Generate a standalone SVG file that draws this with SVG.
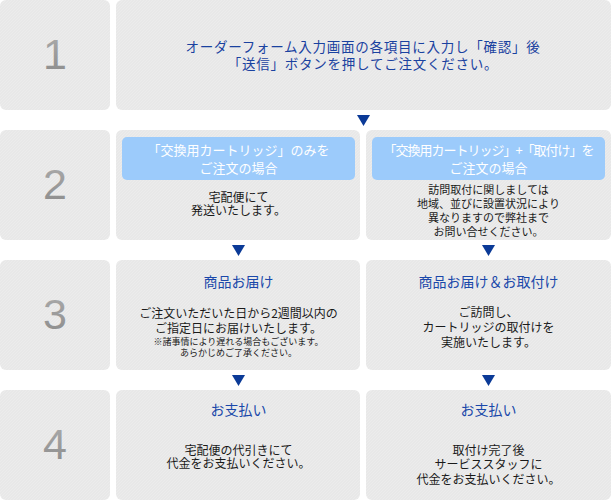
<svg xmlns="http://www.w3.org/2000/svg" width="611" height="500" viewBox="0 0 611 500">
  <defs>
    <pattern id="hatch" width="3" height="3" patternUnits="userSpaceOnUse">
      <rect width="3" height="3" fill="#e8e8e8"/>
      <path d="M0 3 L3 0" stroke="#ececec" stroke-width="1"/>
    </pattern>
    <linearGradient id="numgrad" x1="0" y1="0" x2="0" y2="1">
      <stop offset="0" stop-color="#adadad"/>
      <stop offset="1" stop-color="#8a8a8a"/>
    </linearGradient>
    <path id="arrow" d="M-6.5 0 L6.5 0 L0 11 Z"/>
    <style>
      .box { fill: url(#hatch); }
      .num { font-family: "Liberation Sans", Arial, sans-serif; font-size: 43px; fill: url(#numgrad); text-anchor: middle; }
      .jp { font-family: "Noto Sans CJK JP", "Noto Sans", sans-serif; text-anchor: middle; }
      .lead { font-size: 13.5px; fill: #1a42a0; letter-spacing: 0.75px; }
      .hdr { fill: #9ccbfb; }
      .hdrtxt { font-size: 13px; fill: #ffffff; }
      .title { font-size: 14px; fill: #1a48aa; }
      .body { font-size: 12px; fill: #1a1a1a; }
      .small { font-size: 11px; fill: #1a1a1a; }
      .note { font-size: 9px; fill: #1a1a1a; }
      .arr { fill: #0b3a97; }
    </style>
  </defs>
  <rect width="611" height="500" fill="#ffffff"/>

  <!-- Row 1 -->
  <g id="step1-number">
    <rect class="box" x="0" y="0" width="110" height="110" rx="6"/>
    <text class="num" x="55" y="69">1</text>
  </g>
  <g id="step1-order">
    <rect class="box" x="116" y="0" width="495" height="110" rx="6"/>
    <text class="jp lead" x="363" y="52">オーダーフォーム入力画面の各項目に入力し「確認」後</text>
    <text class="jp lead" x="363" y="68.5">「送信」ボタンを押してご注文ください。</text>
  </g>

  <!-- Row 2 -->
  <g id="step2-number">
    <rect class="box" x="0" y="130" width="110" height="110" rx="6"/>
    <text class="num" x="55" y="199">2</text>
  </g>
  <g id="step2-cartridge-only">
    <rect class="box" x="116" y="130" width="244" height="110" rx="6"/>
    <rect class="hdr" x="122" y="137" width="233" height="43" rx="5"/>
    <text class="jp hdrtxt" x="238.5" y="155">「交換用カートリッジ」のみを</text>
    <text class="jp hdrtxt" x="238.5" y="173">ご注文の場合</text>
    <text class="jp body" x="238.5" y="201.5">宅配便にて</text>
    <text class="jp body" x="238.5" y="215">発送いたします。</text>
  </g>
  <g id="step2-cartridge-install">
    <rect class="box" x="366" y="130" width="245" height="110" rx="6"/>
    <rect class="hdr" x="372" y="137" width="233" height="43" rx="5"/>
    <text class="jp hdrtxt" x="488.5" y="155" letter-spacing="-1">「交換用カートリッジ」+「取付け」を</text>
    <text class="jp hdrtxt" x="488.5" y="173">ご注文の場合</text>
    <text class="jp small" x="488.5" y="194">訪問取付に関しましては</text>
    <text class="jp small" x="488.5" y="208">地域、並びに設置状況により</text>
    <text class="jp small" x="488.5" y="222">異なりますので弊社まで</text>
    <text class="jp small" x="488.5" y="236">お問い合せください。</text>
  </g>

  <!-- Row 3 -->
  <g id="step3-number">
    <rect class="box" x="0" y="260" width="110" height="110" rx="6"/>
    <text class="num" x="55" y="329">3</text>
  </g>
  <g id="step3-delivery">
    <rect class="box" x="116" y="260" width="244" height="110" rx="6"/>
    <text class="jp title" x="238.5" y="287">商品お届け</text>
    <text class="jp body" x="238.5" y="317.5">ご注文いただいた日から2週間以内の</text>
    <text class="jp body" x="238.5" y="332.5">ご指定日にお届けいたします。</text>
    <text class="jp note" x="238.5" y="344.5">※諸事情により遅れる場合もございます。</text>
    <text class="jp note" x="238.5" y="355.5">あらかじめご了承ください。</text>
  </g>
  <g id="step3-delivery-install">
    <rect class="box" x="366" y="260" width="245" height="110" rx="6"/>
    <text class="jp title" x="488.5" y="287">商品お届け＆お取付け</text>
    <text class="jp body" x="488.5" y="316.5">ご訪問し、</text>
    <text class="jp body" x="488.5" y="331.5">カートリッジの取付けを</text>
    <text class="jp body" x="488.5" y="346.5">実施いたします。</text>
  </g>

  <!-- Row 4 -->
  <g id="step4-number">
    <rect class="box" x="0" y="390" width="110" height="110" rx="6"/>
    <text class="num" x="55" y="459">4</text>
  </g>
  <g id="step4-payment-cod">
    <rect class="box" x="116" y="390" width="244" height="110" rx="6"/>
    <text class="jp title" x="238.5" y="415">お支払い</text>
    <text class="jp body" x="238.5" y="454.5">宅配便の代引きにて</text>
    <text class="jp body" x="238.5" y="468">代金をお支払いください。</text>
  </g>
  <g id="step4-payment-staff">
    <rect class="box" x="366" y="390" width="245" height="110" rx="6"/>
    <text class="jp title" x="488.5" y="415">お支払い</text>
    <text class="jp body" x="488.5" y="454.5">取付け完了後</text>
    <text class="jp body" x="488.5" y="469">サービススタッフに</text>
    <text class="jp body" x="488.5" y="483.5">代金をお支払いください。</text>
  </g>

  <!-- Connectors -->
  <g id="connectors" class="arr">
    <use href="#arrow" x="363.5" y="115"/>
    <use href="#arrow" x="238.5" y="245"/>
    <use href="#arrow" x="488.5" y="245"/>
    <use href="#arrow" x="238.5" y="375"/>
    <use href="#arrow" x="488.5" y="375"/>
  </g>
</svg>
